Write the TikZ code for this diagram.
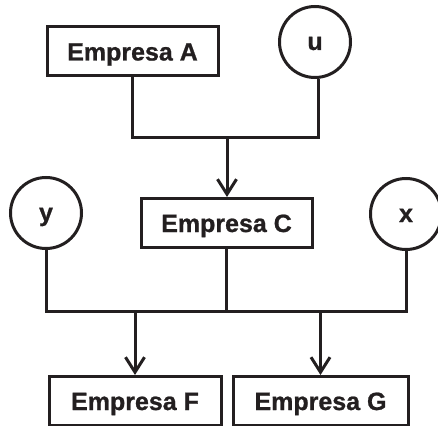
\documentclass[tikz,border=0pt]{standalone}
\usepackage{fontspec}
\setmainfont{Liberation Sans}
\newfontfamily\labelfont{Liberation Sans Bold}[FakeBold=0.9]
\usetikzlibrary{arrows.meta}
\definecolor{ink}{HTML}{231F20}
\begin{document}
\begin{tikzpicture}[x=1pt,y=-1pt,
  every node/.style={font=\labelfont\fontsize{25}{30}\selectfont, text=ink},
  firm/.style={draw=ink, line width=3pt, rectangle, minimum height=49pt,
    text height=18pt, text depth=0pt, inner sep=0pt},
  var/.style={draw=ink, line width=3pt, circle, minimum size=71pt,
    inner sep=0pt, text height=16pt, text depth=0pt},
  link/.style={draw=ink, line width=3pt},
  flow/.style={link, -{Straight Barb[length=15pt,width=19pt,line width=3pt]}}
]
\useasboundingbox (0,0) rectangle (438,425);
\fill[white] (0,0) rectangle (438,425);

% companies and external variables
\node[firm, minimum width=171pt] (A) at (132.5,51.5) {Empresa A};
\node[var] (u) at (315,42) {u};
\node[firm, minimum width=171pt] (C) at (226.5,223) {Empresa C};
\node[var] (y) at (46,213) {y};
\node[var] (x) at (406,214) {x};
\node[firm, minimum width=172pt] (F) at (135,401) {Empresa F};
\node[firm, minimum width=175pt] (G) at (320.5,401) {Empresa G};

% upper junction: A and u feed C
\coordinate (top) at (227,137);
\draw[link] (A.south) |- (top) -| (u.-84);
\draw[flow] (top) -- (top |- C.north);

% lower bus: y, C and x feed F and G
\coordinate (busL) at (46,311);
\coordinate (busR) at (406,311);
\draw[link] (y.south) -- (busL) -- (busR) -- (x.south);
\draw[link] (C.south) -- (C.south |- busL);
\draw[flow] (F.north |- busL) -- (F.north);
\draw[flow] (G.north |- busL) -- (G.north);
\end{tikzpicture}
\end{document}
